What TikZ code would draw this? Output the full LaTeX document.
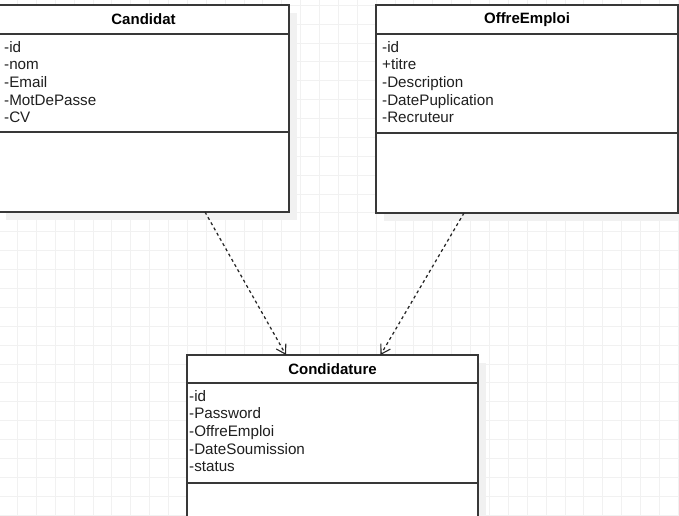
\documentclass[tikz,border=0pt]{standalone}
\usepackage{fontspec}
\setmainfont{Liberation Sans}
\usetikzlibrary{arrows.meta,calc}
\begin{document}
\begin{tikzpicture}[x=1pt,y=-1pt,
  gridline/.style={draw=gray!11, line width=0.8pt},
  shadowbox/.style={fill=gray!11, draw=none},
  umlpart/.style={draw=black!78, line width=1.5pt, fill=white, inner sep=0pt,
    outer sep=0pt, anchor=north west},
  umltitle/.style={font=\fontsize{15}{18}\selectfont\bfseries, text=black},
  umlattrs/.style={font=\fontsize{15.2}{17.6}\selectfont, text=black!88,
    align=left, inner sep=0pt, anchor=north west},
  depend/.style={draw=black!85, line width=1.25pt, dash pattern=on 3pt off 3pt,
    -{Straight Barb[length=9pt,width=11pt,line width=1.1pt]}}
]
\useasboundingbox (0,0) rectangle (679,515);
\clip (0,0) rectangle (679,515);
\fill[white] (0,0) rectangle (679,515);

% background grid
\foreach \i in {0,...,35}
  \draw[gridline] ({17.4+18.88*\i},0) -- ({17.4+18.88*\i},515);
\foreach \j in {0,...,27}
  \draw[gridline] (0,{5.2+18.88*\j}) -- (679,{5.2+18.88*\j});

% shadows
\fill[shadowbox] (6,13) rectangle (297,220);
\fill[shadowbox] (384,13) rectangle (686,221);
\fill[shadowbox] (195,363) rectangle (486,560);

% class Candidat
\node[umlpart, minimum width=291pt, minimum height=29pt] (candH) at (-2,5) {};
\node[umltitle] (candN) at (candH.center) {Candidat};
\node[umlpart, minimum width=291pt, minimum height=98pt] (candA) at (-2,34) {};
\node[umlattrs] (candT) at ([shift={(6,7)}]candA.north west)
  {-id\\-nom\\-Email\\-MotDePasse\\-CV};
\node[umlpart, minimum width=291pt, minimum height=80pt] (candM) at (-2,132) {};

% class OffreEmploi
\node[umlpart, minimum width=302pt, minimum height=29pt] (offH) at (376,5) {};
\node[umltitle] (offN) at (offH.center) {OffreEmploi};
\node[umlpart, minimum width=302pt, minimum height=99pt] (offA) at (376,34) {};
\node[umlattrs] (offT) at ([shift={(6,7)}]offA.north west)
  {-id\\+titre\\-Description\\-DatePuplication\\-Recruteur};
\node[umlpart, minimum width=302pt, minimum height=80pt] (offM) at (376,133) {};

% class Condidature
\node[umlpart, minimum width=291pt, minimum height=28pt] (condH) at (187,355) {};
\node[umltitle] (condN) at (condH.center) {Condidature};
\node[umlpart, minimum width=291pt, minimum height=100pt] (condA) at (187,383) {};
\node[umlattrs] (condT) at ([shift={(2,7)}]condA.north west)
  {-id\\-Password\\-OffreEmploi\\-DateSoumission\\-status};
\node[umlpart, minimum width=291pt, minimum height=60pt] (condM) at (187,483) {};

% dependencies
\draw[depend] ([xshift=207pt]candM.south west) -- ([xshift=99pt]condH.north west);
\draw[depend] ([xshift=88pt]offM.south west) -- ([xshift=193.5pt]condH.north west);
\end{tikzpicture}
\end{document}
